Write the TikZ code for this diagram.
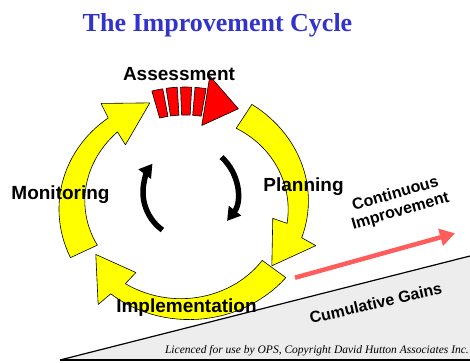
\documentclass[tikz,border=0pt]{standalone}
\usepackage{fontspec}
\setmainfont{Liberation Serif}
\newfontfamily\labelfont{Liberation Sans}
\usetikzlibrary{arrows.meta}

\definecolor{titleblue}{RGB}{51,51,204}
\definecolor{ringyellow}{RGB}{255,255,0}
\definecolor{gainred}{RGB}{255,92,92}

% yellow arrow of the cycle:
% #1 tail angle, #2 outer head angle, #3 inner head angle, #4 tip angle, #5 tip radius
\newcommand{\cyclearrow}[5]{%
  \filldraw[ring arrow]
    plot[domain=#1:#2] ({(128-6*(\x-(#1))/((#2)-(#1)))*cos(\x)},{(118-6*(\x-(#1))/((#2)-(#1)))*sin(\x)})
    -- ({138*cos(#2-1.5)},{128*sin(#2-1.5)})
    -- ({#5*cos(#4)},{#5*sin(#4)})
    -- ({89*cos(#3+1.5)},{81*sin(#3+1.5)})
    -- plot[domain=#3:#1] ({(98+6*(\x-(#1))/((#3)-(#1)))*cos(\x)},{(90+6*(\x-(#1))/((#3)-(#1)))*sin(\x)})
    -- cycle;}

\begin{document}
\begin{tikzpicture}
    [x=1pt,y=1pt,
    title/.style={font=\fontsize{26}{26}\selectfont\bfseries,text=titleblue,inner sep=0pt},
    stage/.style={font=\labelfont\fontsize{19}{19}\selectfont\bfseries,inner sep=0pt},
    note/.style={font=\labelfont\fontsize{16}{18}\selectfont\bfseries,inner sep=0pt,align=center},
    ring arrow/.style={fill=ringyellow,draw=black,line width=0.6pt,line join=round,samples=30},
    block/.style={fill=red,draw=black,line width=0.6pt,line join=round},
    turn arrow/.style={-{Triangle[length=13pt,width=15pt]},line width=5.5pt},
    gain arrow/.style={-{Triangle[length=15pt,width=17pt]},gainred,line width=4.5pt},
    wedge/.style={fill=black!7}]

\useasboundingbox (0,0) rectangle (470,362);

%gains wedge at the bottom
\fill[wedge] (60,2) -- (470,106) -- (470,2) -- cycle;
\draw[line width=1.2pt] (60,2) -- (470,106);
\draw[line width=2pt] (60,2) -- (470,2);

%the cycle
\begin{scope}[shift={(185,157)}]
  %assessment: red blocks and head
  \foreach \a in {105,98.5,92,85.5}
    \filldraw[block] ({128*cos(\a)},{118*sin(\a)})
      arc[start angle=\a,end angle=\a-5,x radius=128,y radius=118]
      -- ({98*cos(\a-5)},{90*sin(\a-5)})
      arc[start angle=\a-5,end angle=\a,x radius=98,y radius=90] -- cycle;
  \filldraw[block] ({143*cos(80)},{131*sin(80)}) -- ({110*cos(61)},{110*sin(61)})
    -- ({88*cos(79)},{81*sin(79)}) -- cycle;

  %planning, implementation, monitoring
  \cyclearrow{58.5}{-17}{-11}{-35}{106}
  \cyclearrow{322}{232.5}{235}{209}{102}
  \cyclearrow{206.5}{129}{130.5}{109}{108}
\end{scope}

%turning arrows in the middle
\draw[turn arrow] (190,170) ++(234:47) arc[start angle=234,end angle=143,radius=47];
\draw[turn arrow] (190,170) ++(48:47) arc[start angle=48,end angle=-38,radius=47];

%labels
\node[title,anchor=base] (title) at (217.5,330) {The Improvement Cycle};
\node[stage,anchor=base] (assess) at (179,281) {Assessment};
\node[stage,anchor=base] (plan) at (303.5,171) {Planning};
\node[stage,anchor=base] (monitor) at (60.5,163) {Monitoring};
\node[stage,anchor=base] (implement) at (186.5,50) {Implementation};

%continuous improvement
\coordinate (gain start) at (295,84.3);
\coordinate (gain end) at (455,128.7);
\draw[gain arrow] (gain start) -- (gain end);
\node[note,rotate=16] (contimp) at (398,159) {Continuous\\Improvement};
\node[note,anchor=base,rotate=13] (cumgain) at (377,53.3) {Cumulative Gains};

%licence line
\node[anchor=base east,inner sep=0pt,font=\fontsize{11.5}{11.5}\selectfont\itshape] (licence)
  at (469,8.7) {Licenced for use by OPS, Copyright David Hutton Associates Inc.};

\end{tikzpicture}
\end{document}
